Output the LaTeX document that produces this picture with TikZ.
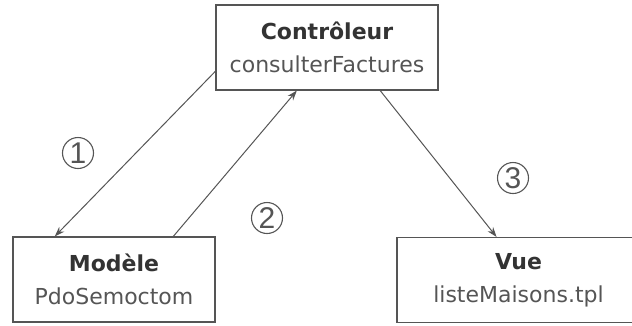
\documentclass[tikz,border=0pt]{standalone}
\usepackage{fontspec}
\setmainfont{DejaVu Sans}
\newfontfamily\numfont{Liberation Sans}
\usetikzlibrary{arrows.meta}

\definecolor{boxline}{HTML}{555555}
\definecolor{titletext}{HTML}{333333}
\definecolor{subtext}{HTML}{555555}

\begin{document}
\begin{tikzpicture}[x=1pt,y=-1pt,
  mvcbox/.style={draw=boxline,line width=1.1pt,rectangle,inner sep=0pt,
    minimum height=85pt,align=center,font=\fontsize{22}{33}\selectfont},
  flow/.style={draw=boxline,line width=1pt,-{Stealth[length=10pt,width=7pt]}},
  stepnum/.style={circle,draw=subtext,line width=1.1pt,minimum size=31pt,
    inner sep=0pt,text=subtext,font=\numfont\fontsize{30}{30}\selectfont}]

\useasboundingbox (0,0) rectangle (632,325);

\node[mvcbox,minimum width=222pt] (ctrl) at (327,47.5)
  {\textbf{\color{titletext}Contrôleur}\\\color{subtext}consulterFactures};

\node[mvcbox,minimum width=202pt] (model) at (114,279.5)
  {\textbf{\color{titletext}Modèle}\\\color{subtext}PdoSemoctom};

\node[mvcbox,minimum width=243pt] (view) at (518.5,280)
  {\textbf{\color{titletext}Vue}\\\color{subtext}listeMaisons.tpl};

% numbered steps
\node[stepnum] (one) at (78,153) {1};
\node[stepnum] (two) at (267,218) {2};
\node[stepnum] (three) at (513,178) {3};

\draw[flow] (ctrl.192) -- (model.144);
\draw[flow] (model.36) -- (ctrl.235);
\draw[flow] (ctrl.-39) -- (view.117);

\end{tikzpicture}
\end{document}
